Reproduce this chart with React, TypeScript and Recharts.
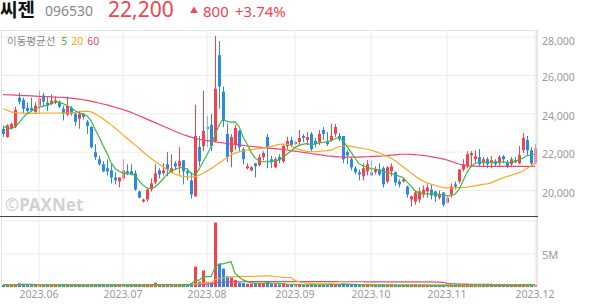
import { Bar, CartesianGrid, ComposedChart, Line, ReferenceLine, XAxis, YAxis } from "recharts";

const RED = "#f2434f";
const BLUE = "#2a88e8";
const MA5_COLOR = "#3dba3d";
const MA20_COLOR = "#f9a825";
const MA60_COLOR = "#f0466c";
const GRID = "#ececec";
const FONT = '"Noto Sans", "Noto Sans CJK KR", sans-serif';

// trading days shown per month (first month is partial)
const months = ["2023.05", "2023.06", "2023.07", "2023.08", "2023.09", "2023.10", "2023.11", "2023.12"];
const tradingDays = [9, 21, 21, 22, 19, 19, 22, 1];

const opens = [
  23210, 22790, 23260, 23310, 24840, 24730, 24310, 24310, 24100, 24420,
  24950, 24580, 24520, 24580, 24630, 24260, 23950, 24300, 24000, 23740,
  24000, 23580, 23310, 22000, 21630, 21370, 21160, 21050, 20680, 20470,
  20630, 21000, 21000, 20900, 19950, 19420, 19530, 20050, 20420, 21050,
  20900, 21370, 20950, 21420, 21260, 21580, 21000, 20530, 19690, 22260,
  22320, 23310, 23420, 22580, 27050, 25150, 22950, 22000, 22420, 23100,
  22160, 21160, 21050, 21420, 21320, 21740, 22790, 21630, 21210, 21740,
  21530, 22320, 22630, 22420, 22530, 22840, 22630, 22950, 22580, 22530,
  23160, 22530, 22630, 22950, 22840, 22840, 22000, 21630, 21160, 20950,
  20740, 21000, 20950, 20950, 21100, 21160, 20470, 21000, 20950, 20470,
  20470, 20210, 19530, 19420, 19530, 19790, 19950, 20050, 19950, 19630,
  19900, 19370, 19790, 20320, 20470, 21100, 21260, 21840, 21630, 21740,
  21420, 21630, 21420, 21530, 21420, 21790, 21470, 21370, 21580, 21420,
  22100, 22630, 22100, 21420,
];
const highs = [
  23310, 23450, 23550, 24370, 25100, 24840, 24580, 24840, 24600, 25200,
  25100, 24900, 25000, 24900, 24700, 24420, 24900, 24400, 24100, 24150,
  24050, 23680, 23370, 22420, 21800, 21530, 21630, 21370, 20950, 20680,
  21630, 21370, 21370, 21050, 20000, 19580, 20160, 20630, 21370, 21160,
  21420, 22000, 21890, 21530, 22260, 21580, 21160, 20950, 24470, 22840,
  25200, 23900, 24000, 28050, 27790, 25420, 23500, 22950, 23420, 23160,
  22260, 21420, 21260, 21420, 21900, 22050, 22950, 21800, 21740, 21900,
  22420, 22800, 22800, 22600, 23160, 22950, 23050, 23050, 22740, 23160,
  23310, 23050, 23470, 23470, 23000, 22840, 22100, 21740, 21260, 21100,
  21420, 21580, 21580, 21260, 21420, 21260, 21260, 21420, 21000, 20580,
  20680, 20260, 19740, 20000, 20160, 20260, 20320, 20320, 20000, 20000,
  19900, 19740, 20370, 20470, 21100, 21630, 22050, 22050, 22100, 22160,
  21740, 21740, 21800, 21630, 21840, 21840, 21580, 21740, 21740, 22320,
  23000, 22840, 22260, 22420,
];
const lows = [
  22790, 22750, 23200, 23250, 24500, 24000, 24050, 24100, 24050, 24050,
  24370, 24150, 24450, 24500, 24300, 23650, 23900, 23900, 23380, 23220,
  23700, 22950, 22200, 21600, 21300, 20950, 20790, 20370, 20320, 20160,
  20530, 20800, 20790, 19980, 19600, 19370, 19420, 19950, 20320, 20630,
  20790, 20740, 20900, 21060, 20840, 20320, 20530, 19580, 19690, 21260,
  22050, 22270, 22050, 22500, 24260, 23300, 21480, 21210, 22100, 22000,
  21370, 21100, 21000, 20690, 21260, 21580, 21160, 21160, 21160, 21420,
  21420, 22160, 22260, 22370, 22370, 22530, 22370, 22050, 22260, 22370,
  22630, 22320, 22530, 22790, 22580, 21420, 21370, 21050, 20840, 20530,
  20530, 20790, 20740, 20840, 20740, 20160, 20370, 20740, 20260, 20160,
  20420, 19630, 19160, 19260, 19370, 19630, 19630, 19530, 19420, 19530,
  19160, 19320, 19630, 20050, 20370, 21000, 21160, 21210, 21420, 21260,
  21260, 21160, 21160, 21260, 21260, 21420, 21160, 21210, 21420, 21370,
  21950, 21840, 21300, 21370,
];
const closes = [
  22950, 23400, 23470, 24210, 24630, 24260, 24150, 24200, 24420, 24790,
  24630, 24420, 24680, 24700, 24370, 24000, 24400, 24000, 23580, 24000,
  23840, 23370, 22260, 21740, 21370, 21000, 21000, 20680, 20530, 20680,
  21050, 20900, 20840, 20050, 19630, 19530, 20050, 20370, 20900, 20840,
  21050, 21100, 21160, 21260, 21530, 21000, 20900, 19790, 22840, 21530,
  23100, 23210, 22320, 25310, 25420, 23630, 21740, 22790, 23260, 22260,
  21630, 21260, 21210, 21260, 21740, 21950, 22260, 21470, 21630, 21580,
  22320, 22580, 22370, 22530, 22740, 22740, 22790, 22160, 22420, 22950,
  22950, 22420, 22840, 23310, 22680, 21630, 21840, 21210, 20950, 20840,
  21160, 21370, 20790, 21100, 20840, 20320, 21210, 21260, 20420, 20320,
  20580, 19790, 19690, 19900, 19950, 20050, 20160, 19740, 19690, 19790,
  19260, 19630, 20210, 20210, 21100, 21370, 21890, 21950, 21790, 21370,
  21630, 21370, 21580, 21370, 21740, 21630, 21260, 21630, 21470, 21840,
  22740, 22100, 21400, 22200,
];

// moving averages of the close
const ma5 = [
  23380, 23260, 23210, 23320, 23530, 23800, 24000, 24120, 24260, 24330,
  24400, 24450, 24530, 24600, 24620, 24530, 24430, 24330, 24160, 24050,
  23980, 23900, 23640, 23200, 22800, 22340, 21950, 21460, 21150, 21000,
  20920, 20880, 20860, 20780, 20520, 20280, 20130, 20110, 20170, 20380,
  20600, 20850, 21000, 21100, 21180, 21200, 21120, 20900, 20800, 21100,
  21500, 21850, 22300, 22900, 23400, 23740, 23600, 23560, 23580, 23350,
  22800, 22420, 22000, 21700, 21540, 21500, 21500, 21520, 21560, 21580,
  21720, 21900, 22050, 22250, 22350, 22420, 22440, 22400, 22420, 22480,
  22510, 22550, 22600, 22700, 22780, 22600, 22300, 22000, 21680, 21400,
  21280, 21220, 21140, 21120, 21080, 21000, 20950, 20880, 20840, 20750,
  20680, 20450, 20230, 19980, 19880, 19840, 19830, 19830, 19820, 19800,
  19780, 19720, 19730, 19820, 20050, 20500, 20950, 21250, 21420, 21460,
  21480, 21480, 21470, 21460, 21480, 21500, 21470, 21480, 21520, 21600,
  21700, 21820, 21850, 21890,
];
const ma20 = [
  24260, 24180, 24100, 24060, 24040, 24030, 24020, 24020, 24020, 24030,
  24040, 24040, 24040, 24040, 24040, 24030, 24040, 24050, 24070, 24100,
  24120, 24140, 24100, 24000, 23880, 23740, 23580, 23420, 23260, 23080,
  22900, 22720, 22550, 22380, 22200, 22020, 21840, 21670, 21520, 21380,
  21240, 21100, 20980, 20860, 20780, 20740, 20720, 20700, 20720, 20800,
  20900, 21020, 21140, 21280, 21430, 21580, 21720, 21850, 21950, 22020,
  22070, 22100, 22130, 22160, 22190, 22220, 22260, 22300, 22350, 22400,
  22420, 22410, 22330, 22200, 22130, 22080, 22040, 22020, 22020, 22040,
  22070, 22080, 22100, 22200, 22280, 22320, 22330, 22300, 22260, 22220,
  22190, 22150, 22100, 22040, 21970, 21880, 21790, 21680, 21550, 21400,
  21240, 21080, 20920, 20760, 20620, 20500, 20400, 20330, 20270, 20210,
  20160, 20140, 20140, 20140, 20150, 20160, 20180, 20210, 20240, 20280,
  20320, 20350, 20400, 20490, 20580, 20660, 20730, 20790, 20860, 20930,
  21030, 21150, 21280, 21420,
];
const ma60 = [
  25000, 24990, 24980, 24970, 24960, 24950, 24940, 24930, 24920, 24910,
  24900, 24890, 24880, 24870, 24860, 24850, 24830, 24810, 24790, 24760,
  24730, 24700, 24660, 24610, 24560, 24510, 24460, 24400, 24340, 24280,
  24220, 24150, 24070, 23990, 23900, 23810, 23720, 23630, 23540, 23450,
  23360, 23270, 23180, 23090, 23000, 22920, 22850, 22780, 22720, 22670,
  22630, 22600, 22570, 22540, 22510, 22480, 22450, 22420, 22400, 22380,
  22350, 22320, 22300, 22280, 22260, 22240, 22220, 22200, 22180, 22160,
  22140, 22110, 22080, 22050, 22020, 21990, 21960, 21930, 21900, 21870,
  21840, 21810, 21790, 21770, 21750, 21740, 21740, 21740, 21740, 21740,
  21750, 21760, 21770, 21780, 21790, 21800, 21820, 21840, 21860, 21880,
  21890, 21890, 21880, 21870, 21850, 21830, 21800, 21770, 21730, 21690,
  21650, 21590, 21520, 21450, 21380, 21320, 21280, 21270, 21270, 21260,
  21260, 21260, 21260, 21260, 21260, 21260, 21260, 21260, 21260, 21260,
  21260, 21260, 21260, 21260,
];

// volume in thousands of shares
const volumes = [
  300, 350, 280, 450, 550, 400, 300, 280, 300, 350,
  300, 280, 300, 400, 280, 300, 320, 250, 300, 280,
  250, 280, 420, 350, 300, 280, 250, 300, 250, 280,
  380, 250, 230, 350, 300, 250, 330, 300, 650, 300,
  280, 350, 300, 280, 400, 400, 300, 600, 3100, 800,
  2500, 800, 700, 9750, 3500, 2800, 1650, 1450, 1050, 650,
  600, 500, 500, 550, 600, 550, 800, 500, 450, 400,
  500, 400, 350, 300, 350, 300, 320, 350, 300, 330,
  300, 280, 500, 400, 300, 550, 350, 330, 300, 280,
  300, 320, 250, 250, 260, 300, 280, 260, 250, 240,
  230, 280, 330, 300, 280, 260, 250, 240, 230, 220,
  300, 260, 300, 220, 380, 350, 400, 300, 280, 260,
  240, 230, 250, 220, 240, 230, 220, 230, 210, 300,
  450, 380, 300, 320,
];
const volMa5 = [
  330, 330, 330, 340, 386, 406, 396, 396, 366, 326,
  306, 306, 306, 326, 312, 312, 320, 294, 290, 294,
  280, 276, 300, 320, 344, 330, 300, 276, 276, 272,
  292, 292, 278, 298, 282, 276, 292, 306, 366, 366,
  372, 376, 376, 302, 322, 346, 336, 396, 960, 1040,
  1460, 1560, 1580, 2910, 3510, 3510, 3680, 3830, 2090, 1520,
  1080, 850, 660, 550, 550, 540, 600, 600, 570, 540,
  530, 450, 420, 390, 380, 340, 324, 324, 324, 320,
  320, 312, 342, 362, 356, 406, 420, 386, 366, 362,
  312, 306, 290, 280, 276, 276, 272, 270, 270, 266,
  252, 252, 266, 276, 284, 294, 284, 266, 250, 240,
  248, 250, 254, 256, 296, 302, 330, 330, 342, 318,
  296, 266, 252, 240, 238, 234, 232, 230, 222, 238,
  282, 312, 328, 360,
];
const volMa20 = [
  330, 330, 332, 335, 338, 340, 340, 338, 336, 335,
  333, 332, 330, 330, 328, 326, 325, 323, 320, 318,
  316, 315, 315, 313, 312, 310, 308, 306, 305, 303,
  303, 302, 300, 300, 300, 300, 302, 305, 318, 318,
  320, 322, 325, 326, 328, 332, 335, 345, 460, 485,
  600, 630, 650, 1120, 1280, 1400, 1470, 1530, 1570, 1590,
  1600, 1610, 1620, 1630, 1640, 1650, 1680, 1690, 1555, 1555,
  1455, 1435, 1420, 960, 800, 670, 600, 545, 510, 495,
  480, 465, 460, 450, 440, 440, 425, 395, 390, 380,
  370, 365, 360, 355, 350, 345, 340, 335, 330, 325,
  320, 315, 310, 305, 300, 298, 296, 294, 292, 290,
  290, 288, 287, 286, 286, 287, 288, 290, 290, 290,
  288, 286, 285, 283, 282, 280, 278, 276, 276, 280,
  285, 288, 290, 292,
];
const volMa60 = [
  345, 345, 344, 344, 343, 343, 342, 342, 341, 341,
  340, 340, 340, 339, 339, 338, 338, 337, 337, 336,
  336, 335, 335, 335, 334, 334, 333, 333, 332, 332,
  332, 331, 331, 330, 330, 330, 330, 330, 331, 331,
  332, 332, 333, 333, 334, 335, 336, 340, 390, 400,
  440, 450, 460, 620, 680, 720, 745, 765, 780, 790,
  795, 800, 805, 808, 810, 812, 815, 815, 815, 815,
  814, 813, 812, 810, 808, 806, 805, 804, 803, 802,
  801, 800, 800, 799, 798, 797, 796, 795, 794, 793,
  792, 791, 790, 789, 788, 787, 786, 785, 784, 783,
  782, 781, 780, 779, 778, 777, 776, 775, 730, 725,
  715, 560, 500, 470, 450, 440, 430, 420, 410, 400,
  395, 390, 385, 380, 375, 370, 368, 366, 364, 362,
  360, 358, 356, 355,
];

const priceTicks = [20000, 22000, 24000, 26000, 28000];
const volumeTicks = [5000, 10000];

const dayKeys: string[] = [];
months.forEach((m, mi) => {
  for (let d = 0; d < tradingDays[mi]; d++) dayKeys.push(`${m}#${d}`);
});
const monthTicks = dayKeys.filter((k, i) => i > 0 && k.endsWith("#0"));

const rows = dayKeys.map((key, i) => ({
  key,
  open: opens[i],
  high: highs[i],
  low: lows[i],
  close: closes[i],
  volume: volumes[i],
  ma5: ma5[i],
  ma20: ma20[i],
  ma60: ma60[i],
  vma5: volMa5[i],
  vma20: volMa20[i],
  vma60: volMa60[i],
}));

function Candle(props: any) {
  const { x, y, width, height, payload } = props;
  if (x == null || !payload) return null;
  const top = Math.min(y, y + height);
  const h = Math.abs(height);
  const { open, close, high, low } = payload;
  const color = close >= open ? RED : BLUE;
  const k = h / (high - low || 1);
  const yO = top + (high - open) * k;
  const yC = top + (high - close) * k;
  const left = Math.round(x + width / 2 - 1.5);
  return (
    <g>
      <rect x={left + 1} y={top} width={1} height={Math.max(h, 1)} fill={color} />
      <rect x={left} y={Math.min(yO, yC)} width={3} height={Math.max(1, Math.abs(yC - yO))} fill={color} />
    </g>
  );
}

function VolumeBar(props: any) {
  const { x, y, width, height, payload } = props;
  if (x == null || !payload) return null;
  const color = payload.close >= payload.open ? RED : BLUE;
  return <rect x={Math.round(x + width / 2 - 1.5)} y={Math.min(y, y + height)} width={3} height={Math.abs(height)} fill={color} />;
}

function PriceTick({ x, y, payload }: any) {
  return (
    <text x={x + 5} y={y + 6} fill="#999" fontSize={10.5} fontFamily={FONT}>
      {Number(payload.value).toLocaleString("en-US")}
    </text>
  );
}

function VolumeTick({ x, y, payload }: any) {
  if (payload.value !== 5000) return null;
  return (
    <text x={x + 5} y={y + 5} fill="#999" fontSize={11} fontFamily={FONT}>
      5M
    </text>
  );
}

function DateTick({ x, y, payload }: any) {
  return (
    <text x={x} y={y + 11} textAnchor="middle" fill="#999" fontSize={10.5} fontFamily={FONT}>
      {String(payload.value).split("#")[0]}
    </text>
  );
}

export default function App() {
  return (
    <div style={{ position: "absolute", left: 0, top: 0, width: 594, height: 304, background: "#fff", fontFamily: FONT, overflow: "hidden" }}>
      {/* header */}
      <div style={{ position: "absolute", left: 0, top: 0, fontSize: 19, fontWeight: 700, color: "#111", fontFamily: '"Noto Sans CJK KR"', lineHeight: "18px" }}>씨젠</div>
      <div style={{ position: "absolute", left: 45, top: 3, fontSize: 14, color: "#888", lineHeight: "16px" }}>096530</div>
      <div style={{ position: "absolute", left: 108, top: 0, fontSize: 21, color: RED, lineHeight: "18px" }}>22,200</div>
      <div style={{ position: "absolute", left: 190, top: 5, fontSize: 8, color: RED, lineHeight: "10px" }}>▲</div>
      <div style={{ position: "absolute", left: 203, top: 2, fontSize: 15, color: RED, lineHeight: "18px" }}>800</div>
      <div style={{ position: "absolute", left: 235, top: 2, fontSize: 15, color: RED, lineHeight: "18px" }}>+3.74%</div>

      <div style={{ position: "absolute", left: 0, top: 30, width: 538, height: 1, background: "#dcdcdc" }} />
      <div style={{ position: "absolute", left: 1, top: 30, width: 1, height: 257, background: "#e2e2e2" }} />

      <div style={{ position: "absolute", left: 0, top: 30 }}>
        <ComposedChart width={594} height={187} data={rows} margin={{ top: 0, right: 0, bottom: 0, left: 1 }}>
          <CartesianGrid stroke={GRID} vertical={false} />
          <XAxis dataKey="key" hide />
          <YAxis
            orientation="right"
            width={57}
            domain={[18620, 28365]}
            ticks={priceTicks}
            allowDataOverflow
            tickLine={false}
            tickSize={0}
            tickMargin={0}
            axisLine={{ stroke: "#cfcfcf" }}
            tick={<PriceTick />}
          />
          {monthTicks.map((k) => (
            <ReferenceLine key={k} x={k} stroke={GRID} />
          ))}
          <Bar dataKey={(d: any) => [d.low, d.high]} barSize={3} shape={(p: any) => <Candle {...p} />} isAnimationActive={false} />
          <Line dataKey="ma60" stroke={MA60_COLOR} strokeWidth={1.2} dot={false} isAnimationActive={false} />
          <Line dataKey="ma20" stroke={MA20_COLOR} strokeWidth={1.2} dot={false} isAnimationActive={false} />
          <Line dataKey="ma5" stroke={MA5_COLOR} strokeWidth={1.2} dot={false} isAnimationActive={false} />
        </ComposedChart>
      </div>

      <div style={{ position: "absolute", left: 7, top: 34, fontSize: 10.5, color: "#888", lineHeight: "14px", fontFamily: '"Noto Sans CJK KR"' }}>
        이동평균선
        <span style={{ marginLeft: 6, color: MA5_COLOR, fontFamily: FONT }}>5</span>
        <span style={{ marginLeft: 4, color: MA20_COLOR, fontFamily: FONT }}>20</span>
        <span style={{ marginLeft: 4, color: MA60_COLOR, fontFamily: FONT }}>60</span>
      </div>
      <div style={{ position: "absolute", left: 5, top: 195, fontSize: 17, fontWeight: 700, color: "#d2d2d2", lineHeight: "20px" }}>©PAXNet</div>

      <div style={{ position: "absolute", left: 0, top: 217 }}>
        <ComposedChart width={594} height={87} data={rows} margin={{ top: 0, right: 0, bottom: 0, left: 1 }}>
          <CartesianGrid stroke={GRID} vertical={false} />
          <XAxis
            dataKey="key"
            height={17}
            ticks={monthTicks}
            interval={0}
            axisLine={false}
            tickLine={false}
            tickSize={0}
            tickMargin={0}
            tick={<DateTick />}
          />
          <YAxis
            orientation="right"
            width={57}
            domain={[0, 10600]}
            ticks={volumeTicks}
            allowDataOverflow
            tickLine={false}
            tickSize={0}
            tickMargin={0}
            axisLine={{ stroke: "#cfcfcf" }}
            tick={<VolumeTick />}
          />
          {monthTicks.map((k) => (
            <ReferenceLine key={k} x={k} stroke={GRID} />
          ))}
          <Bar dataKey="volume" barSize={3} shape={(p: any) => <VolumeBar {...p} />} isAnimationActive={false} />
          <Line dataKey="vma60" stroke={MA60_COLOR} strokeWidth={1.2} dot={false} isAnimationActive={false} />
          <Line dataKey="vma20" stroke={MA20_COLOR} strokeWidth={1.2} dot={false} isAnimationActive={false} />
          <Line dataKey="vma5" stroke={MA5_COLOR} strokeWidth={1.2} dot={false} isAnimationActive={false} />
        </ComposedChart>
      </div>
      <div style={{ position: "absolute", left: 0, top: 216, width: 538, height: 1, background: "#444" }} />
    </div>
  );
}
